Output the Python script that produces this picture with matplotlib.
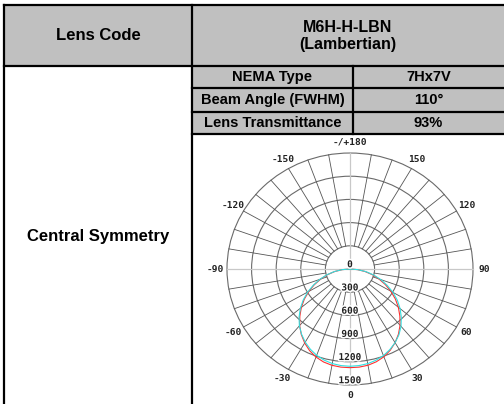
import numpy
import matplotlib
matplotlib.use('Agg')
import matplotlib.pyplot as pyplot
from matplotlib.patches import Rectangle, Circle
import matplotlib.patheffects as patheffects

# table text
head_left = 'Lens Code'
lens_name = 'M6H-H-LBN\n(Lambertian)'
side_label = 'Central Symmetry'
row_labels = ['NEMA Type', 'Beam Angle (FWHM)', 'Lens Transmittance']
row_values = ['7Hx7V', '110\u00b0', '93%']

# polar grid
ring_values = [0, 300, 600, 900, 1200, 1500]
angle_ticks = [0, 30, 60, 90, 120, 150, 180, -150, -120, -90, -60, -30]
angle_labels = ['0', '30', '60', '90', '120', '150', '-/+180',
                '-150', '-120', '-90', '-60', '-30']

# candela curves, 0 deg points down
theta_deg = [-90, -85, -80, -75, -70, -65, -60, -55, -50, -45, -40, -35, -30,
             -25, -20, -15, -10, -5, 0, 5, 10, 15, 20, 25, 30, 35, 40, 45,
             50, 55, 60, 65, 70, 75, 80, 85, 90]
cd_red = [0, 95, 190, 285, 380, 480, 580, 680, 775, 865, 955, 1035, 1105,
          1165, 1212, 1245, 1265, 1274, 1276, 1274, 1264, 1242, 1208, 1160,
          1100, 1030, 950, 860, 770, 675, 575, 475, 375, 280, 185, 92, 0]
cd_cyan = [0, 98, 196, 294, 392, 492, 595, 695, 790, 878, 960, 1030, 1092,
           1145, 1188, 1220, 1242, 1254, 1258, 1254, 1243, 1222, 1192, 1150,
           1100, 1040, 968, 885, 798, 705, 605, 500, 398, 298, 198, 99, 0]

gray = '#c0c0c0'
bold = dict(family=['Liberation Sans', 'DejaVu Sans'], weight='bold', color='black')

fig = pyplot.figure(figsize=(5.04, 4.04), dpi=100)

# ---- table frame, drawn in pixel space
tab = fig.add_axes([0, 0, 1, 1])
tab.set_xlim(0, 504)
tab.set_ylim(404, 0)
tab.axis('off')
tab.add_patch(Rectangle((4, 5), 500, 61, fc=gray, ec='none'))
tab.add_patch(Rectangle((192, 66), 312, 68, fc=gray, ec='none'))
lw = 1.6
for xs, ys in [([4, 504], [5, 5]), ([4, 4], [5, 404]), ([192, 192], [5, 404]),
               ([4, 504], [66, 66]), ([192, 504], [88, 88]),
               ([192, 504], [112, 112]), ([192, 504], [134, 134]),
               ([353, 353], [66, 134])]:
    tab.plot(xs, ys, color='black', lw=lw, solid_capstyle='projecting')

tab.text(98, 36, head_left, ha='center', va='center', fontsize=12, **bold)
tab.text(348, 36, lens_name, ha='center', va='center', fontsize=11.5,
         linespacing=1.15, **bold)
tab.text(98, 237, side_label, ha='center', va='center', fontsize=12, **bold)
row_y = [77, 100, 123]
for i in range(len(row_labels)):
    tab.text(272.5, row_y[i], row_labels[i], ha='center', va='center',
             fontsize=10.5, **bold)
    tab.text(428.5, row_y[i], row_values[i], ha='center', va='center',
             fontsize=10.5, **bold)

# ---- polar diagram (cartesian axes, slightly squashed like the source)
pol = fig.add_axes([195 / 504, 0, 309 / 504, 270 / 404])
pol.set_xlim(-1890, 1878)
pol.set_ylim(-1746, 1746)
pol.axis('off')

rmax = ring_values[-1]
for r in ring_values[1:]:
    pol.add_patch(Circle((0, 0), r, fill=False, ec='#6a6a6a', lw=0.8))

for a in range(0, 360, 10):
    t = numpy.radians(a)
    if a % 90 == 0:
        pol.plot([0, rmax * numpy.sin(t)], [0, -rmax * numpy.cos(t)],
                 color='#c8c8c8', lw=0.9)
    else:
        pol.plot([ring_values[1] * numpy.sin(t), rmax * numpy.sin(t)],
                 [-ring_values[1] * numpy.cos(t), -rmax * numpy.cos(t)],
                 color='#555555', lw=0.6)

th = numpy.radians(theta_deg)
for cd, col in [(cd_red, '#ff3030'), (cd_cyan, '#30e0e0')]:
    cd = numpy.array(cd)
    pol.plot(cd * numpy.sin(th), -cd * numpy.cos(th), color=col, lw=0.8)

mono = dict(family='DejaVu Sans Mono', weight='bold', fontsize=6.8, color='#222222')
halo = [patheffects.withStroke(linewidth=2.2, foreground='white')]
for r in ring_values:
    pol.text(0, -r + 55, str(r), ha='center', va='center', path_effects=halo, **mono)

rl = 1640
for a, lab in zip(angle_ticks, angle_labels):
    t = numpy.radians(a)
    pol.text(rl * numpy.sin(t), -rl * numpy.cos(t), lab, ha='center',
             va='center', **mono)

fig.savefig('out.png', dpi=100)
